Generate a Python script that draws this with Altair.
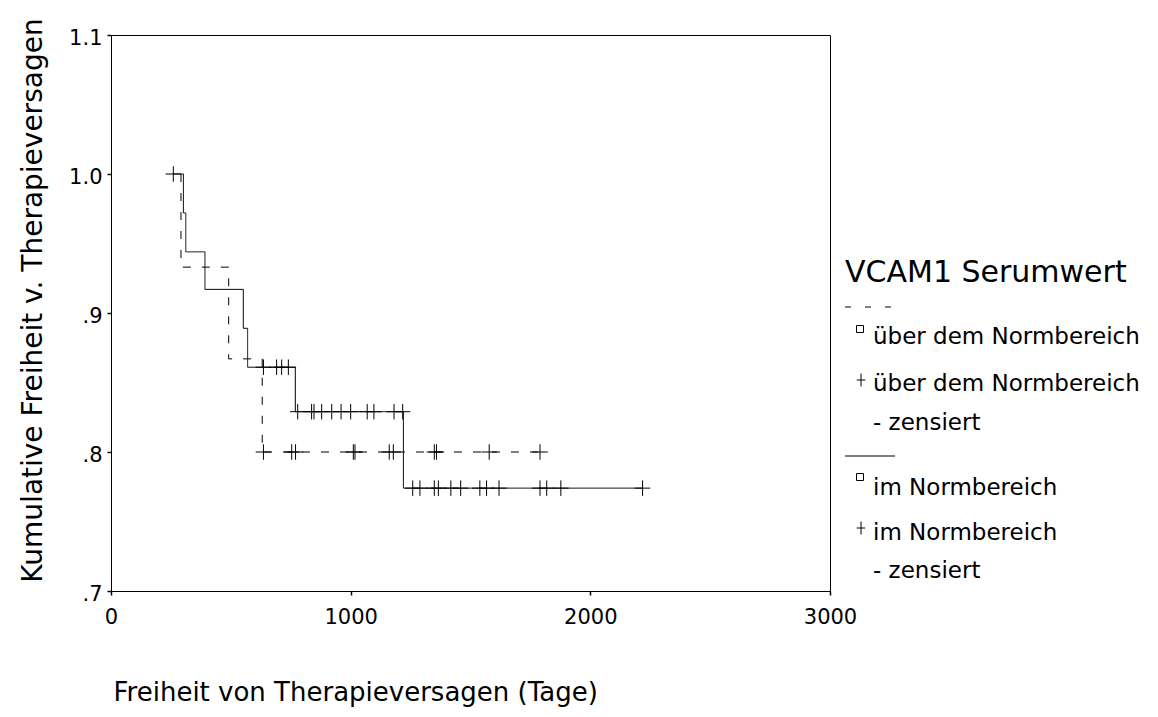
import altair as alt
import pandas as pd

# ---------------- data ----------------
groups = ["über dem Normbereich", "im Normbereich"]

# VCAM1 über dem Normbereich (dashed)
ueber_event_days = [292, 491, 631]
ueber_event_surv = [0.933, 0.867, 0.800]
ueber_censor_days = [636, 754, 770, 1011, 1018, 1161, 1178, 1349, 1358, 1578, 1790]

# VCAM1 im Normbereich (solid)
im_event_days = [302, 312, 392, 552, 570, 769, 1220]
im_event_surv = [0.972, 0.944, 0.917, 0.889, 0.861, 0.829, 0.774]
im_censor_days = [260, 636, 691, 712, 740, 779, 837, 847, 879, 921, 960, 1000,
                  1069, 1097, 1181, 1217, 1259, 1289, 1349, 1366, 1418, 1459,
                  1539, 1567, 1619, 1790, 1818, 1877, 2218]

x_ticks = [0, 1000, 2000, 3000]
y_ticks = [0.7, 0.8, 0.9, 1.0, 1.1]

x_title = "Freiheit von Therapieversagen (Tage)"
y_title = "Kumulative Freiheit v. Therapieversagen"
legend_title = "VCAM1 Serumwert"


def step_value(t, days, surv):
    v = 1.0
    for d, s in zip(days, surv):
        if d <= t:
            v = s
    return v


line_rows, cens_rows = [], []
series = [
    (groups[0], ueber_event_days, ueber_event_surv, ueber_censor_days),
    (groups[1], im_event_days, im_event_surv, im_censor_days),
]
for g, days, surv, cens in series:
    start = min(days[0], cens[0])
    pts = [(start, 1.0)] + list(zip(days, surv)) + [(max(days + cens), surv[-1])]
    for i, (d, s) in enumerate(pts):
        line_rows.append({"group": g, "day": d, "surv": s, "ord": i})
    for c in cens:
        cens_rows.append({"group": g, "day": c, "surv": step_value(c, days, surv)})

lines_df = pd.DataFrame(line_rows)
cens_df = pd.DataFrame(cens_rows)

FONT = "DejaVu Sans"

x_enc = alt.X(
    "day:Q",
    scale=alt.Scale(domain=[0, 3000], nice=False, zero=False),
    axis=alt.Axis(
        values=x_ticks, format="d", grid=False, domain=False,
        tickColor="black", tickSize=4, tickWidth=1.5,
        labelFlush=False, labelOverlap=False,
        labelFont=FONT, labelFontSize=21, labelColor="black", labelPadding=11,
        title=x_title, titleFont=FONT, titleFontSize=26, titleFontWeight="normal",
        titleColor="black", titleAnchor="start", titleAlign="left",
        titleBaseline="alphabetic", titleX=2, titleY=109,
    ),
)
y_enc = alt.Y(
    "surv:Q",
    scale=alt.Scale(domain=[0.7, 1.1], nice=False, zero=False),
    axis=alt.Axis(
        values=y_ticks, grid=False, domain=False,
        labelExpr="datum.value >= 1 ? format(datum.value, '.1f') : replace(format(datum.value, '.1f'), '0.', '.')",
        tickColor="black", tickSize=4, tickWidth=1.5, labelOverlap=False,
        labelFont=FONT, labelFontSize=21, labelColor="black", labelPadding=5,
        labelBaseline="middle", labelOffset=3,
        title=y_title, titleFont=FONT, titleFontSize=28, titleFontWeight="normal",
        titleColor="black", titleAngle=270, titleAlign="center",
        titleBaseline="alphabetic", titleX=-70, titleY=265,
    ),
)

lines = alt.Chart(lines_df).mark_line(
    interpolate="step-after", color="black", strokeWidth=1
).encode(
    x=x_enc, y=y_enc, order="ord:Q",
    detail="group:N",
    strokeDash=alt.StrokeDash(
        "group:N",
        scale=alt.Scale(domain=groups, range=[[8, 11], [1, 0]]),
        legend=None,
    ),
)

PLUS = "M-1,0L1,0M0,-1L0,1"
LEGEND_PLUS = "M-0.65,0L0.65,0M0,-1L0,1"

censors = alt.Chart(cens_df).mark_point(
    shape=PLUS, filled=False, size=240, color="black", strokeWidth=1, opacity=1
).encode(x="day:Q", y="surv:Q")


def one():
    return alt.Data(values=[{}])


def ltext(txt, x, y, size=23):
    return alt.Chart(one()).mark_text(
        text=txt, align="left", baseline="alphabetic", font=FONT,
        fontSize=size, color="black"
    ).encode(x=alt.value(x), y=alt.value(y))


def lrule(x, x2, y, dash):
    return alt.Chart(one()).mark_rule(
        color="black", strokeWidth=1, strokeDash=dash
    ).encode(x=alt.value(x), x2=alt.value(x2), y=alt.value(y))


def lsym(shape, x, y, size):
    return alt.Chart(one()).mark_point(
        shape=shape, filled=False, size=size, color="black", strokeWidth=1, opacity=1
    ).encode(x=alt.value(x), y=alt.value(y))


legend = [
    ltext(legend_title, 734, 247, size=30),
    lrule(734, 781, 272, [6, 14]),
    lsym("square", 749, 294, 49),
    ltext(groups[0], 762, 309),
    lsym(LEGEND_PLUS, 750, 345, 169),
    ltext(groups[0], 762, 356),
    ltext("- zensiert", 762, 395),
    lrule(734, 784, 421, [1, 0]),
    lsym("square", 749, 442, 49),
    ltext(groups[1], 762, 460),
    lsym(LEGEND_PLUS, 750, 493, 169),
    ltext(groups[1], 762, 505),
    ltext("- zensiert", 762, 543),
]

chart = alt.layer(lines, censors, *legend).properties(
    width=719,
    height=556,
    autosize=alt.AutoSizeParams(type="none"),
    padding={"left": 103, "top": 27, "right": 318, "bottom": 118},
    background="white",
).configure(font=FONT).configure_view(stroke="black", strokeWidth=1)

chart.save("out.html", embed_options={"renderer": "svg", "actions": False})
